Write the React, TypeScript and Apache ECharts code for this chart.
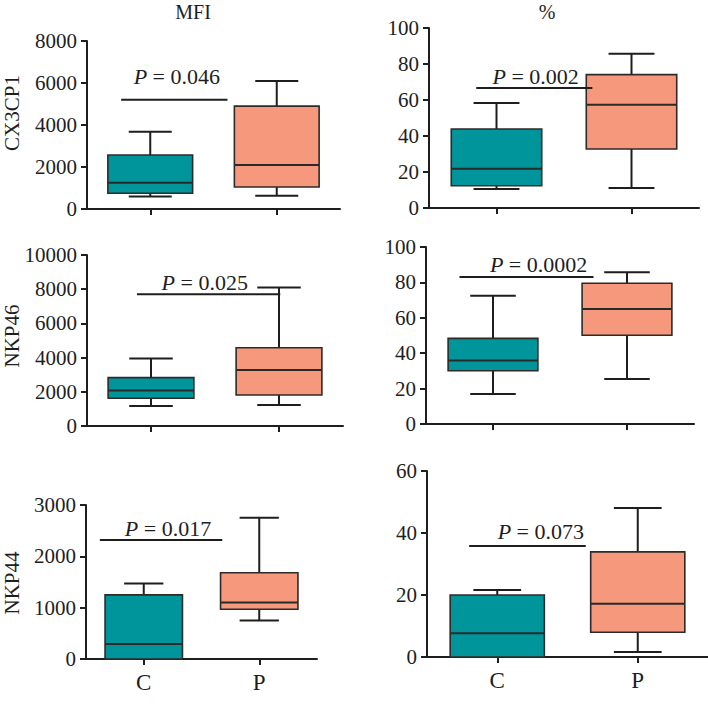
import React, { useEffect, useRef } from 'react';
import * as echarts from 'echarts';

const categories = ['C', 'P'];
const rowLabels = ['CX3CP1', 'NKP46', 'NKP44'];
const columnTitles = ['MFI', '%'];

// box values: [min, Q1, median, Q3, max]
const cx3cp1MfiC = [590, 750, 1250, 2570, 3680];
const cx3cp1MfiP = [630, 1050, 2100, 4900, 6100];
const cx3cp1PctC = [10.6, 12.4, 21.8, 43.9, 58.3];
const cx3cp1PctP = [11.1, 32.8, 57.4, 74.1, 85.7];
const nkp46MfiC = [1170, 1620, 2070, 2830, 3950];
const nkp46MfiP = [1230, 1810, 3270, 4580, 8100];
const nkp46PctC = [16.9, 30.1, 35.9, 48.4, 72.5];
const nkp46PctP = [25.4, 50.1, 65.0, 79.5, 85.7];
const nkp44MfiC = [0, 0, 290, 1250, 1470];
const nkp44MfiP = [750, 970, 1100, 1680, 2750];
const nkp44PctC = [0, 0, 7.7, 20.0, 21.6];
const nkp44PctP = [1.6, 8.0, 17.2, 33.9, 48.1];

const yMax = [8000, 100, 10000, 100, 3000, 60];
const yInterval = [2000, 20, 2000, 20, 1000, 20];

// significance annotations
const pValues = ['0.046', '0.002', '0.025', '0.0002', '0.017', '0.073'];
const sigLineY = [5200, 66.7, 7700, 83, 2320, 35.8];
const sigLineStart = [-0.23, -0.15, -0.11, -0.25, -0.38, -0.2];
const sigLineEnd = [0.61, 0.71, 1.01, 0.75, 0.68, 0.63];
const sigTextX = [0.21, 0.29, 0.42, 0.34, 0.21, 0.31];
const sigTextY = [6290, 72.8, 8380, 90, 2550, 40.6];

const panelBoxes = [
  [cx3cp1MfiC, cx3cp1MfiP],
  [cx3cp1PctC, cx3cp1PctP],
  [nkp46MfiC, nkp46MfiP],
  [nkp46PctC, nkp46PctP],
  [nkp44MfiC, nkp44MfiP],
  [nkp44PctC, nkp44PctP],
];

const boxColors = ['#00959a', '#f5987b'];
const FONT = '"Liberation Serif", "Times New Roman", serif';
const INK = '#1e1e1e';

const grids = [
  { left: 87, right: 368, top: 41, bottom: 498 },
  { left: 429, right: 9, top: 28, bottom: 499 },
  { left: 87, right: 365, top: 255, bottom: 281 },
  { left: 426, right: 14, top: 247, bottom: 283 },
  { left: 86, right: 391, top: 505, bottom: 48 },
  { left: 427, right: 0, top: 471, bottom: 50 },
];

export default function App() {
  const ref = useRef<HTMLDivElement>(null);
  useEffect(() => {
    if (!ref.current) return;
    const chart = echarts.init(ref.current, null, { renderer: 'svg' });
    const xAxes: any[] = [];
    const yAxes: any[] = [];
    const series: any[] = [];
    grids.forEach((g, i) => {
      const bottomRow = i >= 4;
      xAxes.push({
        gridIndex: i,
        type: 'category',
        data: categories,
        boundaryGap: true,
        axisLine: { show: true, lineStyle: { color: INK, width: 2 } },
        axisTick: { show: true, alignWithLabel: true, length: 6, lineStyle: { color: INK, width: 2 } },
        axisLabel: { show: bottomRow, fontFamily: FONT, fontSize: 23, color: INK, margin: 12 },
        splitLine: { show: false },
      });
      yAxes.push({
        gridIndex: i,
        type: 'value',
        min: 0,
        max: yMax[i],
        interval: yInterval[i],
        axisLine: { show: true, lineStyle: { color: INK, width: 2 } },
        axisTick: { show: true, length: 6, lineStyle: { color: INK, width: 2 } },
        axisLabel: {
          fontFamily: FONT,
          fontSize: 21,
          color: INK,
          margin: 10,
          formatter: (v: number) => String(v),
        },
        splitLine: { show: false },
      });
      series.push({
        type: 'custom',
        xAxisIndex: i,
        yAxisIndex: i,
        clip: false,
        encode: { x: 0, y: [1, 2, 3, 4, 5] },
        data: panelBoxes[i].map((b, k) => [k, ...b]),
        renderItem: (params: any, api: any) => {
          const cat = api.value(0);
          const pMin = api.coord([cat, api.value(1)]);
          const pQ1 = api.coord([cat, api.value(2)]);
          const pMed = api.coord([cat, api.value(3)]);
          const pQ3 = api.coord([cat, api.value(4)]);
          const pMax = api.coord([cat, api.value(5)]);
          const bw = api.size([1, 0])[0];
          const half = bw * 0.335;
          const cap = bw * 0.17;
          const x = pMed[0];
          const lineStyle = { stroke: INK, lineWidth: 2 };
          return {
            type: 'group',
            children: [
              { type: 'line', shape: { x1: x, y1: pQ3[1], x2: x, y2: pMax[1] }, style: lineStyle },
              { type: 'line', shape: { x1: x - cap, y1: pMax[1], x2: x + cap, y2: pMax[1] }, style: lineStyle },
              { type: 'line', shape: { x1: x, y1: pQ1[1], x2: x, y2: pMin[1] }, style: lineStyle },
              { type: 'line', shape: { x1: x - cap, y1: pMin[1], x2: x + cap, y2: pMin[1] }, style: lineStyle },
              {
                type: 'rect',
                shape: { x: x - half, y: pQ3[1], width: half * 2, height: pQ1[1] - pQ3[1] },
                style: { fill: boxColors[cat], stroke: '#2e2a28', lineWidth: 1.6 },
              },
              { type: 'line', shape: { x1: x - half, y1: pMed[1], x2: x + half, y2: pMed[1] }, style: { stroke: '#2a2a2a', lineWidth: 2 } },
            ],
          };
        },
      });
      series.push({
        type: 'custom',
        xAxisIndex: i,
        yAxisIndex: i,
        clip: false,
        encode: { x: 0, y: 1 },
        data: [[0, sigLineY[i]]],
        renderItem: (params: any, api: any) => {
          const ly = api.value(1);
          const a = api.coord([0, ly]);
          const b = api.coord([1, ly]);
          const span = b[0] - a[0];
          const ty = api.coord([0, sigTextY[i]])[1];
          const x1 = a[0] + span * sigLineStart[i];
          const x2 = a[0] + span * sigLineEnd[i];
          return {
            type: 'group',
            children: [
              {
                type: 'line',
                shape: { x1, y1: a[1], x2, y2: a[1] },
                style: { stroke: INK, lineWidth: 2 },
              },
              {
                type: 'text',
                x: a[0] + span * sigTextX[i],
                y: ty,
                style: {
                  text: '{i|P} = ' + pValues[i],
                  fontFamily: FONT,
                  fontSize: 22,
                  fill: INK,
                  align: 'center',
                  verticalAlign: 'middle',
                  rich: {
                    i: { fontFamily: FONT, fontSize: 22, fontStyle: 'italic', fill: INK },
                  },
                },
              },
            ],
          };
        },
      });
    });

    const rowY = [113, 336, 583];
    const graphic: any[] = [
      { type: 'text', x: 193, y: 12, style: { text: columnTitles[0], fontFamily: FONT, fontSize: 20, fill: INK, align: 'center', verticalAlign: 'middle' } },
      { type: 'text', x: 547, y: 12, style: { text: columnTitles[1], fontFamily: FONT, fontSize: 20, fill: INK, align: 'center', verticalAlign: 'middle' } },
      ...rowLabels.map((t, k) => ({
        type: 'text',
        x: 12,
        y: rowY[k],
        rotation: Math.PI / 2,
        style: { text: t, fontFamily: FONT, fontSize: 21, fill: INK, align: 'center', verticalAlign: 'middle' },
      })),
    ];

    chart.setOption({
      animation: false,
      backgroundColor: '#ffffff',
      grid: grids,
      xAxis: xAxes,
      yAxis: yAxes,
      series,
      graphic,
    });
    return () => chart.dispose();
  }, []);
  return <div ref={ref} style={{ position: 'fixed', left: 0, top: 0, width: 708, height: 707 }} />;
}
